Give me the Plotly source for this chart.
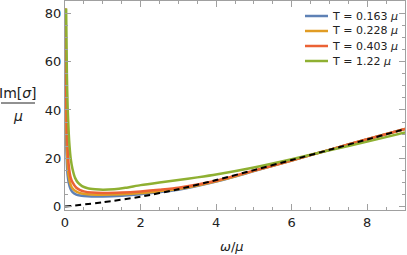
import plotly.graph_objects as go

# ---- data ----
w_blue = [0.01, 0.02, 0.03, 0.05, 0.07, 0.1, 0.15, 0.2, 0.3, 0.4, 0.5, 0.7, 1.0, 1.5, 2.0, 2.5, 3.0, 4.0, 5.0, 6.0, 7.0, 8.0, 9.0]
s_blue = [70, 40, 28, 18, 13, 9.8, 7.2, 6.0, 5.0, 4.6, 4.4, 4.2, 4.2, 4.5, 5.1, 6.0, 7.0, 10.4, 14.7, 19.1, 23.5, 27.9, 32.1]

w_orange = [0.01, 0.02, 0.03, 0.05, 0.07, 0.1, 0.15, 0.2, 0.3, 0.4, 0.5, 0.7, 1.0, 1.5, 2.0, 2.5, 3.0, 4.0, 5.0, 6.0, 7.0, 8.0, 9.0]
s_orange = [82, 55, 38, 24, 17.5, 12.5, 9.0, 7.5, 6.2, 5.6, 5.3, 5.0, 4.9, 5.1, 5.6, 6.4, 7.3, 10.5, 14.8, 19.1, 23.5, 27.9, 32.1]

w_red = [0.015, 0.03, 0.05, 0.07, 0.1, 0.15, 0.2, 0.3, 0.4, 0.5, 0.7, 1.0, 1.5, 2.0, 2.5, 3.0, 4.0, 5.0, 6.0, 7.0, 8.0, 9.0]
s_red = [82, 50, 32, 24, 17, 12, 10, 7.8, 6.8, 6.3, 5.8, 5.6, 5.8, 6.3, 7.0, 7.8, 10.7, 14.9, 19.2, 23.5, 27.9, 32.1]

w_green = [0.03, 0.05, 0.07, 0.1, 0.12, 0.15, 0.2, 0.27, 0.35, 0.45, 0.6, 0.8, 1.0, 1.3, 1.6, 2.0, 2.5, 3.0, 3.5, 4.0, 5.0, 6.0, 7.0, 8.0, 9.0]
s_green = [82, 55, 41, 30, 25, 20, 15.5, 11.8, 9.8, 8.5, 7.6, 7.2, 7.0, 7.2, 7.8, 8.9, 10.0, 11.0, 12.1, 13.3, 16.2, 19.6, 23.3, 26.9, 30.7]

w_free = [0, 1, 2, 3, 4, 5, 6, 7, 8, 9]
s_free = [0, 1.8, 4.1, 7.2, 11.0, 15.1, 19.3, 23.5, 27.8, 32.1]

labels = ["T = 0.163 <i>μ</i>", "T = 0.228 <i>μ</i>", "T = 0.403 <i>μ</i>", "T = 1.22 <i>μ</i>"]
colors = ["#5E81B5", "#E19C24", "#EB6235", "#8FB032"]

fig = go.Figure()
series = [(w_blue, s_blue), (w_orange, s_orange), (w_red, s_red), (w_green, s_green)]
for (w, s), lab, c in zip(series, labels, colors):
    fig.add_trace(go.Scatter(x=w, y=s, mode="lines", name=lab, showlegend=False,
                             line=dict(color=c, width=2.5, shape="spline", smoothing=0.6)))
fig.add_trace(go.Scatter(x=w_free, y=s_free, mode="lines", showlegend=False,
                         line=dict(color="black", width=2, dash="6px,4px", shape="spline", smoothing=0.6)))

frame = "#A0A0A0"
tickfont = dict(family="DejaVu Sans", size=13, color="#222")
fig.update_xaxes(range=[0, 9], dtick=2, tick0=0, ticks="inside", ticklen=6, tickcolor=frame,
                 showline=True, linecolor=frame, linewidth=1, mirror="ticks",
                 showgrid=False, zeroline=False, tickfont=tickfont,
                 minor=dict(dtick=0.5, ticks="inside", ticklen=3, tickcolor=frame))
fig.update_yaxes(range=[-1.4, 85.1], dtick=20, tick0=0, ticks="inside", ticklen=6, tickcolor=frame,
                 showline=True, linecolor=frame, linewidth=1, mirror="ticks",
                 showgrid=False, zeroline=False, tickfont=tickfont,
                 minor=dict(dtick=5, ticks="inside", ticklen=3, tickcolor=frame))

L, R, T, B = 65, 2, 1, 45
W, H = 407, 255
pw, ph = W - L - R, H - T - B
def px(x): return (x - L) / pw
def py(y): return (H - B - y) / ph

annotations = [
    dict(text="Im[<i>σ</i>]", x=px(18), y=py(93), xref="paper", yref="paper",
         xanchor="center", yanchor="middle", showarrow=False, font=dict(size=14, color="#222")),
    dict(text="<i>μ</i>", x=px(18), y=py(116), xref="paper", yref="paper",
         xanchor="center", yanchor="middle", showarrow=False, font=dict(size=14, color="#222")),
    dict(text="<i>ω</i>/<i>μ</i>", x=px(232), y=py(247), xref="paper", yref="paper",
         xanchor="center", yanchor="middle", showarrow=False, font=dict(size=13, color="#222")),
]
shapes = [dict(type="line", xref="paper", yref="paper", x0=px(1), x1=px(35),
               y0=py(103), y1=py(103), line=dict(color="#222", width=1))]

# legend (drawn as swatches + labels for compact row spacing)
for i, (lab, c) in enumerate(zip(labels, colors)):
    yy = 16 + 15 * i
    shapes.append(dict(type="line", xref="paper", yref="paper", x0=px(305), x1=px(328),
                       y0=py(yy), y1=py(yy), line=dict(color=c, width=2.5)))
    annotations.append(dict(text=lab, x=px(330), y=py(yy), xref="paper", yref="paper",
                            xanchor="left", yanchor="middle", showarrow=False,
                            font=dict(size=11, color="#222")))

fig.update_layout(
    width=W, height=H, margin=dict(l=L, r=R, t=T, b=B, autoexpand=False),
    plot_bgcolor="white", paper_bgcolor="white",
    font=dict(family="DejaVu Sans", size=12, color="#222"),
    annotations=annotations, shapes=shapes,
)

fig.write_html("out.html", config={"displayModeBar": False},
               post_script="document.body.style.margin='0';")
